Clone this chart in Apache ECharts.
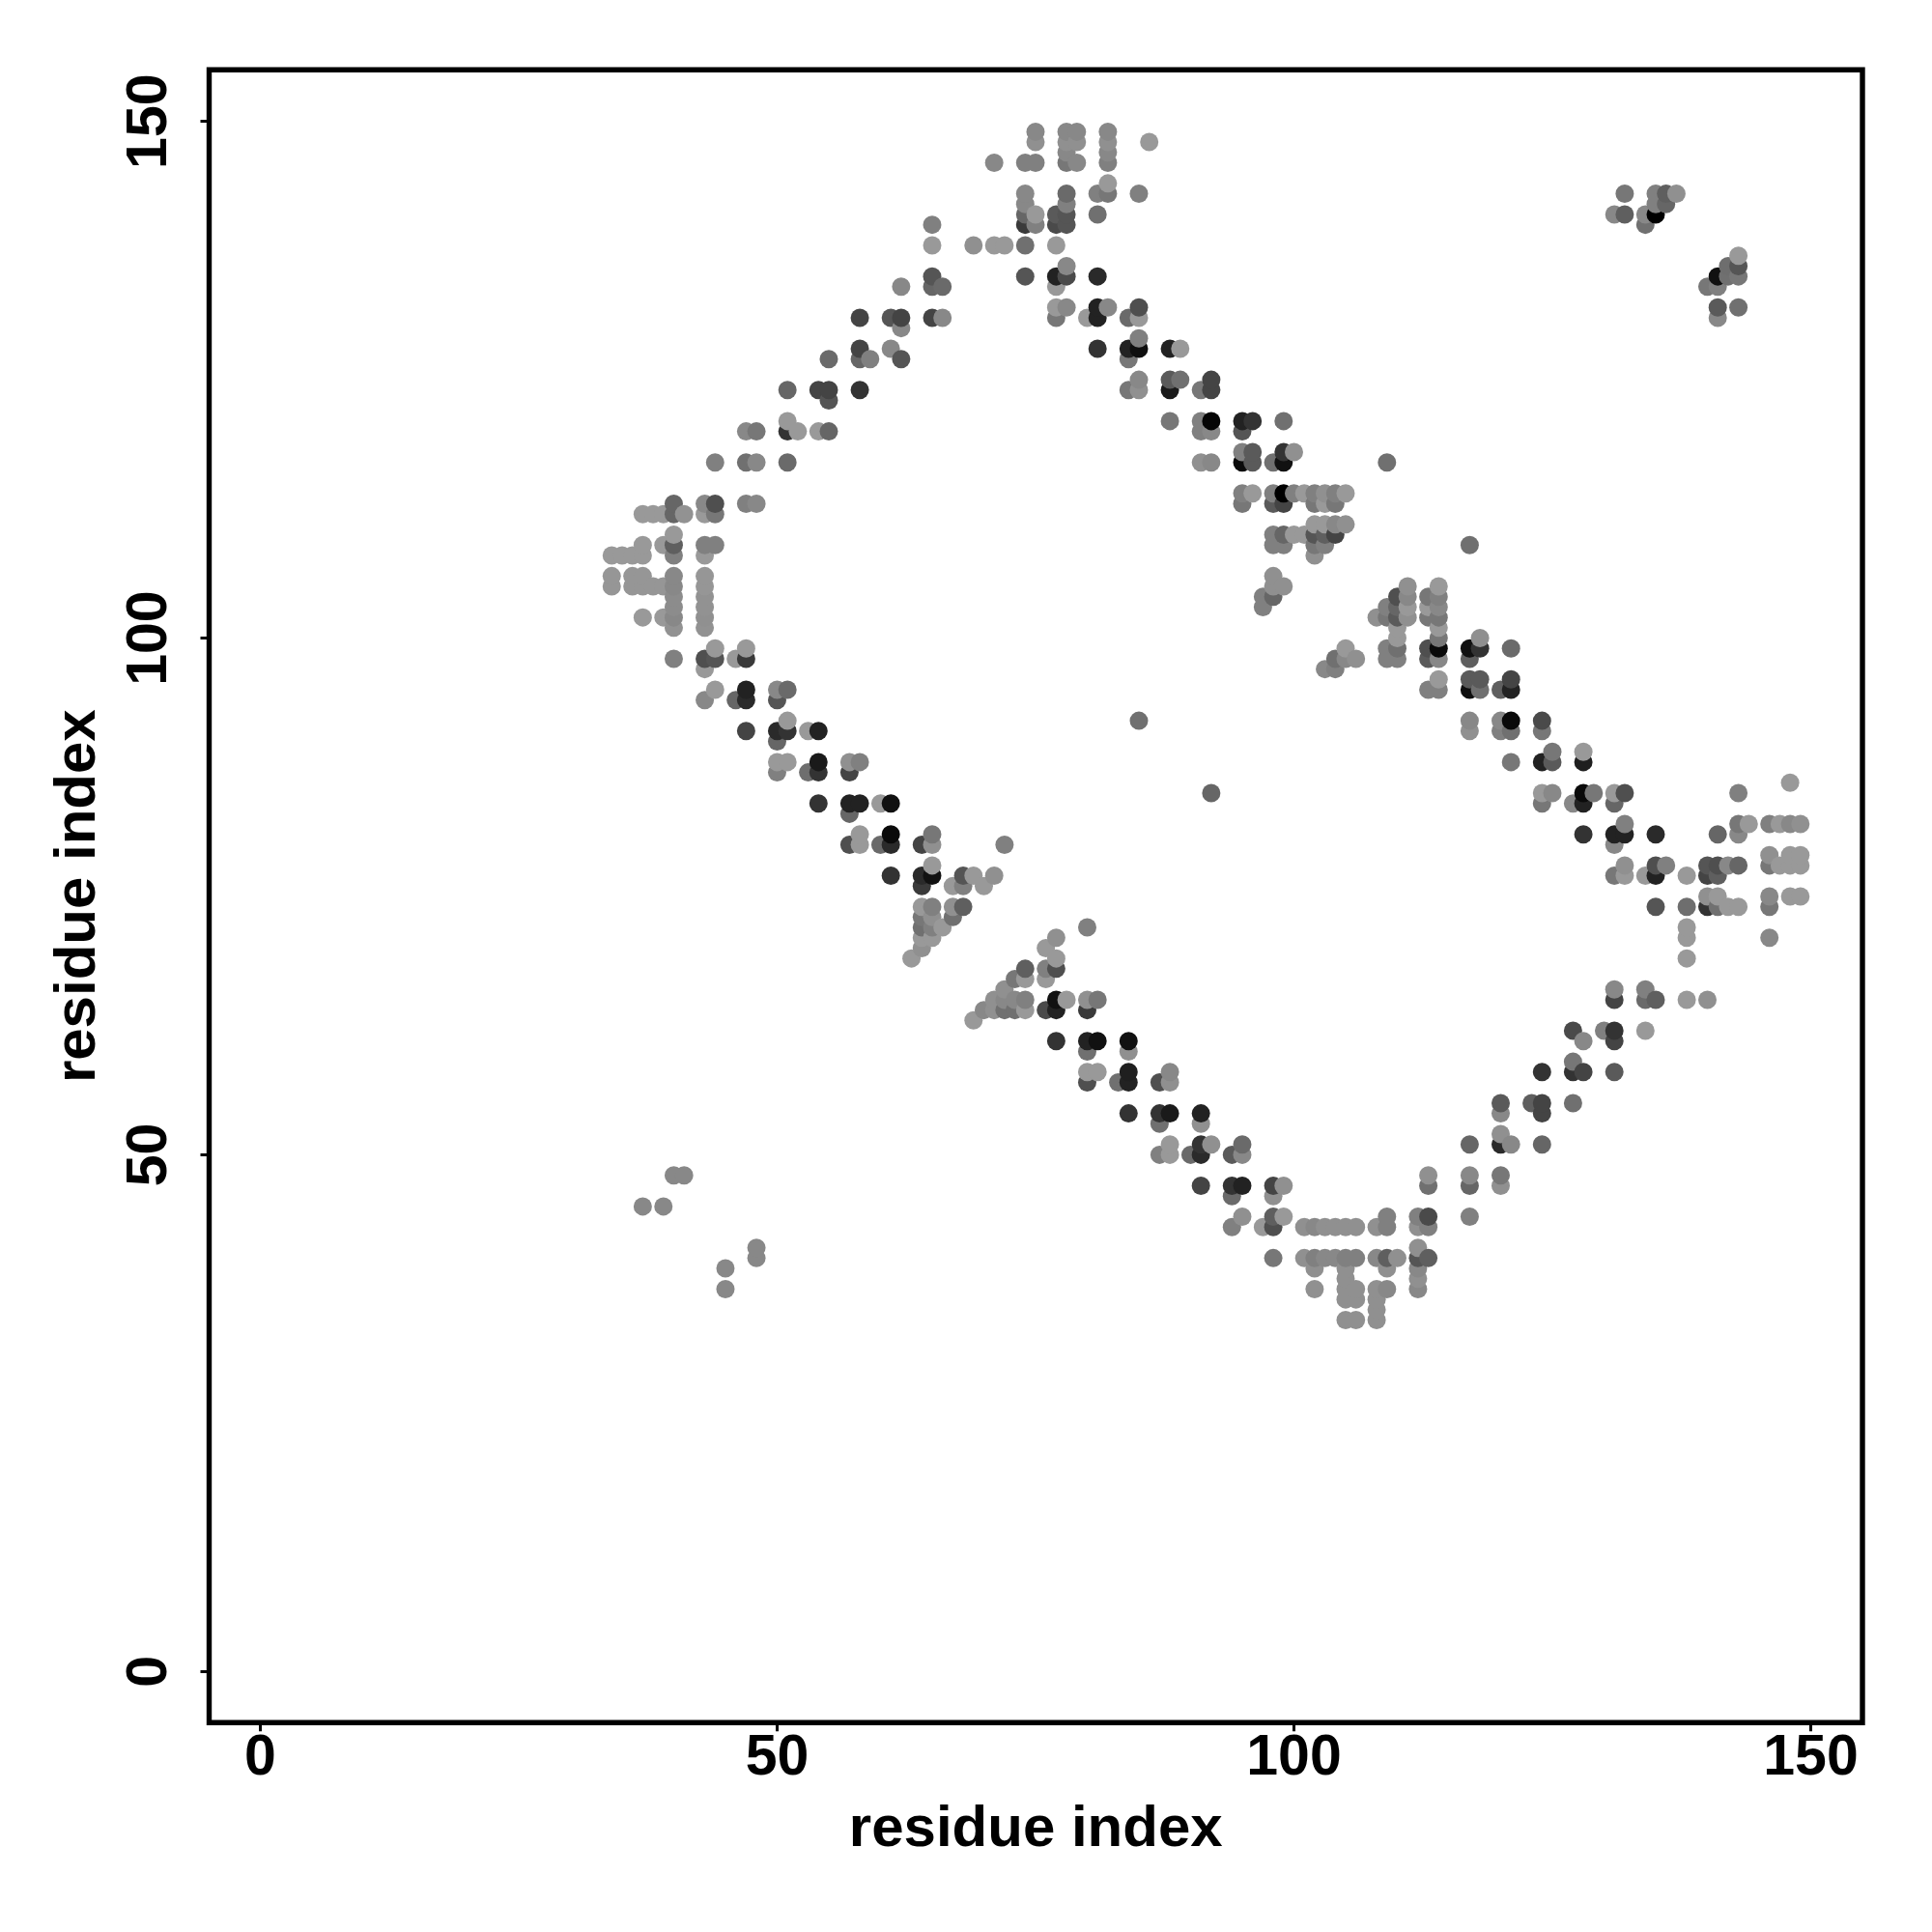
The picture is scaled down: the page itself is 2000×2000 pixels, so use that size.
<!DOCTYPE html>
<html>
<head>
<meta charset="utf-8">
<style>html,body{margin:0;padding:0;background:#fff}#chart{width:2000px;height:2000px}</style>
<script src="https://cdn.jsdelivr.net/npm/echarts@6/dist/echarts.min.js"></script>
</head>
<body>
<div id="chart"></div>
<script>
const tickValues = [0, 50, 100, 150];
const axisTitle = 'residue index';
const rowY = [149,148,147,146,144,143,142,141,140,138,137,136,135,134,132,131,130,129,128,127,125,124,123,121,120,118,117,114,113,112,111,110,109,108,106,105,104,103,102,101,100,99,98,97,96,95,94,92,91,90,89,88,87,86,85,84,83,82,81,80,79,78,77,76,75,74,73,72,71,70,69,68,67,66,65,64,63,62,61,60,59,58,57,55,54,53,52,51,50,48,47,46,45,44,43,41,40,39,38,37,36,35,34];
const rowX = [
[75,78,79,82],
[75,78,79,82,86],
[78,82],
[71,74,75,78,79,82],
[82],
[74,78,81,82,85,132,135,136,137],
[74,78,135,136],
[74,75,77,78,81,131,132,134,135],
[65,74,75,77,78,134],
[65,69,71,72,74,77],
[143],
[78,142,143],
[65,74,77,78,81,141,142,143],
[62,65,66,77,140,141],
[77,78,81,82,85,141,143],
[58,61,62,65,66,77,80,81,84,85,141],
[62],
[85],
[58,61,81,84,85,88,89],
[55,58,59,62,84],
[85,88,89,92],
[51,54,55,58,84,85,88,91,92],
[55],
[51,88,91,92,95,96,99],
[47,48,51,52,54,55,91,92,95],
[95,96,99,100],
[44,47,48,51,91,92,95,96,98,99,109],
[95,96,98,99,100,101,102,103,104,105],
[40,43,44,47,48,95,98,99,102,103,104],
[37,38,39,40,41,43,44],
[102,103,104,105],
[40,98,99,100,101,102,103,104],
[37,39,40,43,44,98,99,102,103,117],
[34,35,36,37,40,43,102],
[34,36,37,40,43,98],
[34,36,37,38,39,40,43,98,99,111,114],
[40,43,97,98,110,111,113,114],
[40,43,97,109,110,111,113,114],
[37,39,40,43,108,109,110,111,113,114],
[40,43,110,114],
[110,114,118],
[44,47,105,109,110,113,114,117,118,121],
[40,43,44,46,47,104,105,106,109,110,113,114,117],
[43,103,104],
[114,117,118,121],
[44,47,50,51,113,114,117,118,120,121],
[43,46,47,50],
[51,85,117,120,121,124],
[47,50,51,53,54,117,120,121,124],
[50],
[125,128],
[50,51,54,57,58,121,124,125,128],
[50,53,54,57],
[148],
[92,124,125,128,129,131,132,143],
[54,57,58,60,61,124,127,128,131],
[57],
[132,143,144,146,147,148,149],
[58,61,65,128,131,132,135,141,143],
[57,58,60,61,64,65,72,131],
[146,148,149],
[65,132,135,136,140,141,142,143,146,147,148,149],
[61,64,65,68,69,71,131,132,134,135,138,140,141],
[64,67,68,70],
[140,141,146,148,149],
[64,65,67,68,135,138,140,141,142,143,146],
[64,65,67],
[64,65,66,80,138],
[64,65,77,138,146],
[64,76],
[63,77,138],
[74,76,77],
[73,74,76],
[72,131,134],
[71,72,73,74,77,78,80,81,131,134,135,138,140],
[70,71,72,73,74,76,77,80],
[69],
[127,130,131,134],
[77,80,81,84,128,131],
[80,84],
[127],
[80,81,84,88,124,127,128,131],
[80,83,84,87,88],
[120,123,124,127],
[84,87,88,91,120,124],
[87,91],
[120],
[88,91,92,95,117,120,121,124],
[87,88,90,91,94,95],
[40,41,113,117,120],
[91,94,95,98,99,113,117,120],
[94,98],
[37,39],
[95,98,99,109,112,113,117],
[94,97,98,101,102,103,104,105,106,108,109,112,113],
[48,112],
[48,98,101,102,103,104,105,106,108,109,110,112,113],
[45,102,105,109,112],
[105,112],
[45,102,105,106,108,109,112],
[105,106,108],
[108],
[105,106,108]
];
const rowGray = [
[136,136,136,136],
[144,144,144,144,153],
[136,136],
[136,128,128,119,136,128],
[153],
[136,106,128,119,128,119,128,95,144],
[136,128,128,102],
[102,153,90,85,112,136,95,136,0],
[128,58,128,74,85,112],
[153,144,153,153,112,153],
[153],
[136,110,85],
[85,85,34,74,42,17,112,119],
[136,102,106,153,119,128],
[153,136,34,136,79,90,112],
[68,85,68,68,136,119,153,34,106,153,136],
[136],
[128],
[68,136,51,34,15,34,153],
[106,102,128,85,119],
[136,90,112,68],
[102,68,68,51,119,144,26,119,68],
[85],
[153,119,128,5,34,51,112],
[136,119,51,153,153,102,128,136,85],
[128,90,51,144],
[128,112,136,106,144,136,10,90,112,17,112],
[128,153,128,0,128,153,128,144,128,153],
[102,136,79,128,136,119,90,68,119,153,119],
[153,153,153,102,146,153,119],
[153,153,136,144],
[153,128,102,153,153,85,95,68],
[153,153,95,128,128,128,128,119,128,112],
[153,153,153,153,128,153,144],
[150,150,150,136,150,144],
[150,150,150,150,150,136,150,144,144,144,153],
[140,146,128,102,79,136,119,128],
[140,146,128,128,102,153,153,136],
[153,153,136,144,144,119,90,144,119,119],
[146,146,153,153],
[153,119,144],
[153,153,153,128,112,79,10,17,51,106],
[128,79,85,153,58,112,136,144,128,128,90,136,95],
[153,136,128],
[153,90,90,68],
[153,34,136,106,128,128,15,112,95,34],
[136,102,42,85],
[153,112,136,136,10,74],
[68,42,51,153,34,144,128,112,119],
[102],
[119,153],
[153,153,26,144,128,119,34,90,31],
[128,110,51,68],
[153],
[102,153,136,10,119,153,79,128],
[51,34,34,153,17,119,136,34,102],
[102],
[128,119,153,128,153,136,144],
[153,10,119,51,34,34,42,102,136],
[79,153,106,42,68,144,128,136],
[144,153,153],
[153,144,79,128,85,79,136,102,119,153,153,153],
[51,42,17,85,153,144,119,153,153,34,153,68,95],
[58,153,128,153],
[144,153,136,153,153],
[153,128,144,95,85,110,51,112,153,153,119],
[119,144,112],
[112,128,153,128,153],
[153,153,144,153,136],
[144,153],
[153,153,153],
[95,128,79],
[119,153,153],
[144,136,128],
[144,136,136,128,17,153,144,119,68,106,95,153,144],
[136,144,112,112,153,74,34,58],
[153],
[74,128,51,153],
[51,34,17,17,136,68],
[112,144],
[119],
[153,153,31,136,51,51,68,90],
[79,112,34,79,144],
[90,95,68,112],
[51,51,26,34,136,68],
[112,144],
[144],
[153,51,144,106,102,42,136,102],
[128,153,106,42,90,136],
[136,136,144,136,119],
[68,51,34,68,144,112,102,144],
[106,144],
[136,136],
[144,95,153,128,128,74,128],
[128,153,79,144,136,144,144,144,144,144,128,144,128],
[136,144],
[136,119,144,128,136,136,128,128,136,95,144,85,95],
[136,144,144,144,136],
[144,144],
[136,144,144,144,144,136,136],
[144,144,144],
[144],
[144,144,144]
];

const points = [];
rowY.forEach((y, r) => {
  rowX[r].forEach((x, c) => {
    const g = rowGray[r][c];
    points.push({ value: [x, y], itemStyle: { color: `rgb(${g},${g},${g})`, opacity: 1 } });
  });
});
points.sort((a, b) => a.value[0] - b.value[0] || a.value[1] - b.value[1]);

const font = '"Liberation Sans", Arial, Helvetica, sans-serif';
const axisMin = -4.95, axisMax = 155;
function axisBase() {
  return {
    type: 'value', min: axisMin, max: axisMax,
    name: axisTitle, nameLocation: 'middle', nameMoveOverlap: false,
    nameTextStyle: { fontFamily: font, fontWeight: 'bold', fontSize: 60, color: '#000' },
    splitLine: { show: false }, minorTick: { show: false },
    axisLine: { show: false, onZero: false },
    axisTick: { show: true, length: 9, lineStyle: { color: '#000', width: 3 }, customValues: tickValues },
  };
}
const chart = echarts.init(document.getElementById('chart'), null, { renderer: 'canvas', width: 2000, height: 2000 });
chart.setOption({
  animation: false,
  backgroundColor: '#fff',
  grid: { left: 216.5, top: 72.2, width: 1711.5, height: 1711, show: true, borderColor: '#000', borderWidth: 5.4, backgroundColor: 'transparent', containLabel: false },
  xAxis: Object.assign(axisBase(), {
    nameGap: 81,
    axisLabel: { show: true, customValues: tickValues, margin: 8, fontFamily: font, fontWeight: 'bold', fontSize: 59, color: '#000', hideOverlap: false }
  }),
  yAxis: Object.assign(axisBase(), {
    nameGap: 105,
    axisLabel: { show: true, customValues: tickValues, rotate: 90, margin: 31, fontFamily: font, fontWeight: 'bold', fontSize: 59, color: '#000', hideOverlap: false }
  }),
  series: [{
    type: 'scatter', symbol: 'circle', symbolSize: 19, silent: true,
    data: points, large: false, progressive: 0
  }]
});
</script>
</body>
</html>
